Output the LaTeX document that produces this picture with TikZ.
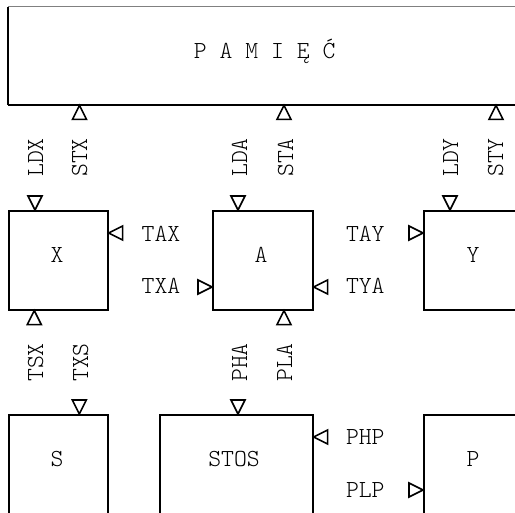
\documentclass[tikz,border=0pt]{standalone}
\usetikzlibrary{calc}
\begin{document}
\begin{tikzpicture}[x=1pt,y=-1pt,
  box/.style={draw, line width=1.6pt, anchor=north west, inner sep=0pt},
  lbl/.style={font=\fontseries{l}\ttfamily\fontsize{24.5}{29}\selectfont, inner sep=0pt},
  tri/.style={draw, line width=1.6pt, fill=white},
  triU/.pic={\draw[tri] (0,0) -- (-7,14) -- (7,14) -- cycle;},
  triD/.pic={\draw[tri] (0,0) -- (-7,-14) -- (7,-14) -- cycle;},
  triL/.pic={\draw[tri] (0,0) -- (14,-7) -- (14,7) -- cycle;},
  triR/.pic={\draw[tri] (0,0) -- (-14,-7) -- (-14,7) -- cycle;},
]
\useasboundingbox (0,0) rectangle (515,513);
\clip (0,0) rectangle (515,513);
\fill[white] (0,0) rectangle (515,513);

% memory
\node[anchor=north west, inner sep=0pt, minimum width=530pt, minimum height=98pt] (mem) at (8,7) {};
\draw[gray, line width=1pt] (mem.north west) -- (mem.north east);
\draw[line width=1.6pt] (mem.north west) -- (mem.south west);
\draw[line width=1.8pt] (mem.south west) -- (mem.south east);
\node[lbl, anchor=base] (memt) at (264.7,59) {P A M I Ę Ć};

% boxes
\node[box, minimum width=99pt, minimum height=99pt] (X) at (8,210) {};
\node[box, minimum width=100pt, minimum height=99pt] (A) at (212,210) {};
\node[box, minimum width=120pt, minimum height=99pt] (Y) at (423,210) {};
\node[box, minimum width=99pt, minimum height=120pt] (S) at (8,414) {};
\node[box, minimum width=153pt, minimum height=120pt] (STOS) at (159,414) {};
\node[box, minimum width=120pt, minimum height=120pt] (P) at (423,414) {};

\node[lbl, anchor=base] (Xt) at (57,263) {X};
\node[lbl, anchor=base] (At) at (261,263) {A};
\node[lbl, anchor=base] (Yt) at (473,263) {Y};
\node[lbl, anchor=base] (St) at (57,467) {S};
\node[lbl, anchor=base] (STOSt) at (234,467) {STOS};
\node[lbl, anchor=base] (Pt) at (473,467) {P};

% triangles under memory
\pic at ($(mem.south west)+(71.5,0)$) {triU};
\pic at ($(mem.south west)+(276,0)$) {triU};
\pic at ($(mem.south west)+(488,0)$) {triU};
% triangles above row 1
\pic at ($(X.north west)+(27,0)$) {triD};
\pic at ($(A.north west)+(26,0)$) {triD};
\pic at ($(Y.north west)+(27,0)$) {triD};
% side triangles row 1
\pic at ($(X.north east)+(0,23)$) {triL};
\pic at ($(A.north west)+(0,77)$) {triR};
\pic at ($(Y.north west)+(0,23)$) {triR};
\pic at ($(A.north east)+(0,77)$) {triL};
% triangles below row 1
\pic at ($(X.south west)+(26.3,0)$) {triU};
\pic at ($(A.south west)+(72,0)$) {triU};
% triangles above row 2
\pic at ($(S.north west)+(71.3,0)$) {triD};
\pic at ($(STOS.north west)+(79,0)$) {triD};
% side triangles row 2
\pic at ($(STOS.north east)+(0,23)$) {triL};
\pic at ($(P.north west)+(0,76)$) {triR};

% vertical labels
\node[lbl, rotate=90, anchor=base] (ldx) at (43,157.5) {LDX};
\node[lbl, rotate=90, anchor=base] (stx) at (87,157.5) {STX};
\node[lbl, rotate=90, anchor=base] (lda) at (247,157.5) {LDA};
\node[lbl, rotate=90, anchor=base] (sta) at (293,157.5) {STA};
\node[lbl, rotate=90, anchor=base] (ldy) at (458,157.5) {LDY};
\node[lbl, rotate=90, anchor=base] (sty) at (503,157.5) {STY};
\node[lbl, rotate=90, anchor=base] (tsx) at (43,362.5) {TSX};
\node[lbl, rotate=90, anchor=base] (txs) at (88,362.5) {TXS};
\node[lbl, rotate=90, anchor=base] (pha) at (247,362.5) {PHA};
\node[lbl, rotate=90, anchor=base] (pla) at (292,362.5) {PLA};

% horizontal labels
\node[lbl, anchor=base] (tax) at (161,242) {TAX};
\node[lbl, anchor=base] (txa) at (161,294) {TXA};
\node[lbl, anchor=base] (tay) at (365.3,242) {TAY};
\node[lbl, anchor=base] (tya) at (365.3,294) {TYA};
\node[lbl, anchor=base] (php) at (365.3,445) {PHP};
\node[lbl, anchor=base] (plp) at (365.3,498) {PLP};
\end{tikzpicture}
\end{document}
